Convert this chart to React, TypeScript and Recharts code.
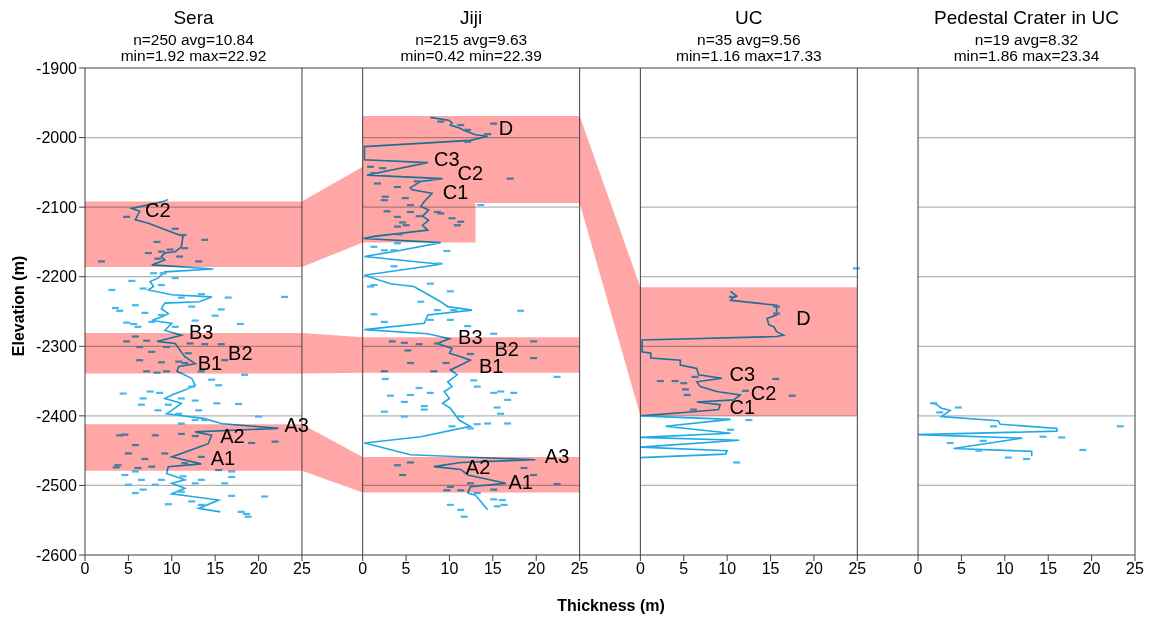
import { ComposedChart, Line, Scatter, Area, XAxis, YAxis, ReferenceLine } from "recharts";

// panel layout along one numeric x axis: each panel is 0..25 m, gaps of 7
const PANEL_TITLES = ["Sera", "Jiji", "UC", "Pedestal Crater in UC"];
const PANEL_STATS = [
  ["n=250 avg=10.84", "min=1.92 max=22.92"],
  ["n=215 avg=9.63", "min=0.42 min=22.39"],
  ["n=35 avg=9.56", "min=1.16 max=17.33"],
  ["n=19 avg=8.32", "min=1.86 max=23.34"],
];
const OFFSETS = [0, 32, 64, 96];
const PANEL_MAX = 25;
const LOCAL_TICKS = [0, 5, 10, 15, 20, 25];
const Y_TICKS = [-2600, -2500, -2400, -2300, -2200, -2100, -2000, -1900];
const GRID_LEVELS = [-2000, -2100, -2200, -2300, -2400, -2500];

// [thickness, elevation]
const SERA_LINE = [
  [9.6, -2089], [9.0, -2092], [5.4, -2102], [6.3, -2106], [5.8, -2118], [7.3, -2123], [10.4, -2138],
  [11.3, -2142], [11.1, -2157], [10.4, -2164], [9.2, -2166], [8.8, -2171], [9.2, -2176], [7.7, -2183],
  [14.8, -2189], [9.2, -2193], [8.4, -2202], [7.5, -2207], [7.9, -2214], [7.3, -2219], [10.0, -2226],
  [14.6, -2229], [13.2, -2236], [9.2, -2238], [8.8, -2246], [9.6, -2253], [9.0, -2257], [7.7, -2263],
  [10.0, -2267], [9.2, -2277], [11.1, -2284], [8.3, -2293], [10.4, -2296], [11.1, -2308], [11.5, -2315],
  [12.7, -2325], [10.8, -2329], [10.6, -2336], [12.3, -2346], [12.7, -2356], [11.5, -2363], [10.0, -2370],
  [9.2, -2375], [11.1, -2382], [10.0, -2392], [9.4, -2397], [13.8, -2404], [15.7, -2411], [22.3, -2418],
  [12.7, -2423], [14.6, -2428], [14.2, -2440], [12.7, -2447], [10.0, -2459], [13.4, -2469], [9.6, -2473],
  [9.4, -2483], [11.5, -2492], [10.0, -2497], [11.5, -2504], [10.0, -2512], [15.4, -2521], [13.1, -2533],
  [15.6, -2538],
];
const SERA_POINTS = [
  [4.8, -2114], [10.4, -2131], [11.3, -2140], [8.3, -2150], [13.8, -2147], [11.5, -2159], [7.3, -2166],
  [8.8, -2164], [9.8, -2161], [10.9, -2171], [1.9, -2178], [13.1, -2178], [8.4, -2174], [7.9, -2195],
  [9.0, -2195], [10.4, -2202], [5.4, -2206], [3.1, -2219], [6.7, -2217], [8.8, -2212], [13.4, -2225],
  [16.5, -2230], [23.0, -2229], [11.1, -2230], [5.8, -2241], [12.3, -2243], [3.5, -2245], [4.0, -2249],
  [6.9, -2252], [8.8, -2255], [15.0, -2256], [15.7, -2247], [4.8, -2266], [6.1, -2272], [5.6, -2268],
  [17.9, -2268], [7.7, -2265], [12.7, -2263], [10.4, -2272], [5.8, -2286], [7.1, -2292], [4.8, -2293],
  [12.1, -2296], [13.8, -2297], [15.7, -2297], [6.3, -2301], [9.4, -2301], [7.7, -2308], [11.9, -2310],
  [16.1, -2320], [6.3, -2320], [8.8, -2323], [10.8, -2322], [7.1, -2336], [8.3, -2338], [9.4, -2336],
  [11.5, -2324], [13.4, -2336], [18.4, -2341], [15.4, -2356], [14.6, -2348], [12.3, -2358], [7.5, -2365],
  [4.4, -2368], [8.6, -2367], [6.7, -2375], [11.1, -2375], [12.7, -2378], [9.6, -2384], [8.4, -2392],
  [15.2, -2382], [17.7, -2383], [6.5, -2384], [13.1, -2392], [10.8, -2397], [20.0, -2401], [12.7, -2406],
  [13.8, -2406], [11.1, -2411], [4.6, -2427], [4.0, -2428], [8.1, -2428], [11.1, -2426], [12.7, -2429],
  [19.2, -2439], [21.9, -2437], [5.8, -2442], [5.0, -2454], [6.9, -2462], [9.2, -2454], [13.4, -2459],
  [3.8, -2471], [3.6, -2474], [6.1, -2475], [7.7, -2473], [11.5, -2468], [15.4, -2478], [16.9, -2480],
  [5.8, -2480], [4.6, -2485], [6.5, -2492], [8.8, -2492], [11.3, -2487], [13.4, -2492], [16.9, -2488],
  [5.0, -2499], [8.1, -2499], [12.7, -2497], [16.1, -2497], [5.8, -2511], [6.7, -2506], [11.1, -2509],
  [16.9, -2515], [20.7, -2516], [12.3, -2523], [9.6, -2527], [13.4, -2528], [18.0, -2538], [18.8, -2545],
  [18.6, -2541],
];
const JIJI_LINE = [
  [7.8, -1971], [9.9, -1975], [10.3, -1979], [10.1, -1982], [11.3, -1987], [11.7, -1990], [13.0, -1996],
  [14.4, -1998], [12.4, -2004], [0.2, -2013], [0.2, -2032], [7.5, -2036], [3.2, -2047], [0.5, -2054],
  [9.2, -2059], [6.7, -2063], [5.5, -2072], [5.7, -2075], [8.0, -2080], [7.1, -2092], [6.7, -2099],
  [7.6, -2104], [6.9, -2113], [7.6, -2119], [6.9, -2126], [7.5, -2133], [1.3, -2142], [0.1, -2145],
  [9.0, -2151], [4.4, -2162], [0.2, -2171], [9.0, -2182], [0.2, -2198], [3.2, -2210], [5.9, -2214],
  [9.0, -2236], [9.8, -2243], [12.6, -2248], [7.5, -2255], [7.1, -2267], [0.2, -2276], [7.5, -2282],
  [10.0, -2289], [8.6, -2296], [10.3, -2303], [10.0, -2310], [11.3, -2315], [12.4, -2320], [11.3, -2327],
  [10.1, -2334], [10.9, -2341], [9.8, -2351], [10.3, -2358], [9.4, -2365], [10.0, -2375], [9.2, -2382],
  [10.1, -2389], [10.7, -2399], [11.1, -2406], [12.4, -2415], [6.7, -2430], [0.2, -2439], [5.5, -2456],
  [19.9, -2463], [11.3, -2467], [8.2, -2473], [11.3, -2477], [12.1, -2485], [16.5, -2497], [12.4, -2502],
  [12.1, -2511], [13.0, -2514], [14.4, -2535],
];
const JIJI_POINTS = [
  [9.0, -1977], [11.3, -1982], [12.1, -1989], [14.4, -1995], [15.1, -1980], [12.1, -2006], [0.9, -2042],
  [2.3, -2044], [1.3, -2051], [4.0, -2071], [1.7, -2066], [17.0, -2059], [6.3, -2063], [2.6, -2085],
  [2.5, -2090], [4.9, -2087], [2.8, -2106], [5.5, -2097], [4.0, -2114], [5.5, -2107], [6.5, -2113],
  [4.6, -2122], [4.0, -2128], [5.0, -2126], [9.0, -2109], [10.3, -2116], [11.3, -2121], [10.9, -2126],
  [4.2, -2139], [8.6, -2107], [13.6, -2097], [1.3, -2157], [2.5, -2162], [3.6, -2162], [4.0, -2152],
  [9.7, -2163], [3.6, -2185], [8.8, -2181], [1.3, -2212], [0.9, -2214], [7.8, -2210], [6.7, -2236],
  [10.1, -2221], [8.6, -2248], [10.5, -2248], [1.3, -2254], [2.5, -2265], [18.2, -2249], [7.8, -2262],
  [10.1, -2262], [12.1, -2271], [15.1, -2282], [3.4, -2293], [4.8, -2295], [6.5, -2297], [8.6, -2296],
  [5.2, -2306], [19.7, -2293], [5.5, -2324], [2.5, -2336], [8.2, -2336], [12.4, -2311], [9.6, -2324],
  [19.7, -2317], [22.4, -2344], [2.6, -2347], [6.5, -2360], [7.8, -2367], [12.8, -2349], [13.2, -2358],
  [3.2, -2371], [4.8, -2380], [5.5, -2370], [15.1, -2367], [15.9, -2365], [17.4, -2367], [7.1, -2386],
  [7.1, -2391], [16.7, -2377], [15.5, -2388], [2.5, -2394], [4.8, -2401], [11.3, -2401], [15.9, -2397],
  [13.2, -2412], [10.3, -2415], [12.4, -2418], [16.7, -2411], [14.4, -2411], [4.0, -2471], [4.6, -2485],
  [5.5, -2467], [18.6, -2475], [19.7, -2485], [22.4, -2498], [12.4, -2497], [10.1, -2502], [9.7, -2507],
  [11.3, -2507], [13.2, -2511], [15.1, -2506], [15.1, -2520], [16.1, -2521], [10.1, -2528], [11.3, -2535],
  [15.5, -2530], [16.3, -2528], [11.7, -2545],
];
const UC_LINE = [
  [10.4, -2221], [11.1, -2228], [10.6, -2231], [10.4, -2234], [15.7, -2241], [15.7, -2255], [14.6, -2260],
  [14.8, -2269], [15.4, -2272], [15.7, -2279], [16.5, -2284], [15.7, -2286], [0.2, -2291], [0.2, -2308],
  [1.2, -2310], [1.2, -2317], [4.6, -2320], [4.6, -2327], [6.5, -2332], [6.7, -2341], [9.4, -2346],
  [6.5, -2351], [6.9, -2358], [8.8, -2365], [11.5, -2370], [10.75, -2377], [6.5, -2380], [9.2, -2384],
  [9.0, -2391], [6.1, -2394], [0.0, -2400], [10.4, -2405], [2.9, -2415], [10.4, -2425], [0.0, -2431],
  [11.4, -2435], [0.0, -2445], [10.0, -2450], [9.8, -2455], [0.0, -2460],
];
const UC_POINTS = [
  [2.3, -2350], [4.0, -2350], [5.0, -2353], [5.2, -2362], [5.4, -2370], [6.3, -2344], [6.1, -2391],
  [12.1, -2364], [15.6, -2347], [17.5, -2371], [12.5, -2406], [10.4, -2420], [11.1, -2467], [10.6, -2229],
  [15.7, -2243], [15.7, -2253], [24.9, -2188],
];
const PEDESTAL_LINE = [
  [1.6, -2381], [2.15, -2384], [2.7, -2389], [3.7, -2392], [2.7, -2401], [9.25, -2407], [9.45, -2412],
  [16.0, -2418], [16.0, -2422], [0.0, -2427], [12.0, -2432], [4.1, -2447], [13.1, -2451], [13.1, -2458],
];
const PEDESTAL_POINTS = [
  [4.65, -2388], [2.5, -2395], [1.8, -2382], [8.7, -2415], [23.3, -2415], [14.4, -2430], [16.55, -2431],
  [3.7, -2439], [7.5, -2436], [7.0, -2450], [19.0, -2449], [10.4, -2460], [12.5, -2462],
];

const PANEL_LINES = [SERA_LINE, JIJI_LINE, UC_LINE, PEDESTAL_LINE];
const PANEL_POINTS = [SERA_POINTS, JIJI_POINTS, UC_POINTS, PEDESTAL_POINTS];

// correlated units: [panel, thickness, low elevation, high elevation]
const BAND_C = [
  [0, 0, -2186, -2092], [0, 25, -2186, -2092], [1, 0, -2151, -2042], [1, 0, -2151, -1969],
  [1, 13, -2151, -1969], [1, 13, -2094, -1969], [1, 25, -2094, -1969], [2, 0, -2400, -2215],
  [2, 25, -2400, -2215],
];
const BAND_B = [[0, 0, -2339, -2281], [0, 25, -2339, -2281], [1, 0, -2338, -2287], [1, 25, -2338, -2287]];
const BAND_A = [[0, 0, -2479, -2412], [0, 25, -2479, -2412], [1, 0, -2510, -2459], [1, 25, -2510, -2459]];
const BANDS = [BAND_C, BAND_B, BAND_A];

// [panel, name, thickness, elevation]
const UNIT_LABELS = [
  [0, "C2", 8.4, -2104], [0, "B3", 13.4, -2279], [0, "B2", 17.9, -2309], [0, "B1", 14.4, -2324],
  [0, "A3", 24.4, -2413], [0, "A2", 17.0, -2429], [0, "A1", 15.9, -2461],
  [1, "D", 16.5, -1986], [1, "C3", 9.7, -2031], [1, "C2", 12.4, -2051], [1, "C1", 10.7, -2078],
  [1, "B3", 12.4, -2287], [1, "B2", 16.6, -2304], [1, "B1", 14.8, -2328],
  [1, "A3", 22.4, -2458], [1, "A2", 13.3, -2474], [1, "A1", 18.2, -2495],
  [2, "D", 18.8, -2259], [2, "C3", 11.75, -2340], [2, "C2", 14.2, -2367], [2, "C1", 11.75, -2387],
];

const FONT = "'Liberation Sans', Arial, sans-serif";
const BLUE = "#1eaae6";
const PINK = "#ffa6a6";
const FRAME = "#404040";

const xTicks = OFFSETS.flatMap((o) => LOCAL_TICKS.map((t) => o + t));
const edges = OFFSETS.flatMap((o) => [o, o + PANEL_MAX]);
const labelData = UNIT_LABELS.map(([p, name, t, e]) => ({ x: OFFSETS[p as number] + (t as number), y: e, name }));

const Dash = (props: any) => {
  const { cx, cy } = props;
  if (cx == null || cy == null) return null;
  return <rect x={cx - 3.5} y={cy - 1.1} width={7} height={2.2} fill="#45b8ec" />;
};

const UnitLabel = (props: any) => {
  const { cx, cy, payload } = props;
  if (cx == null || cy == null) return null;
  return (
    <text x={cx} y={cy} textAnchor="middle" dominantBaseline="central" fontSize={20} fontFamily={FONT} fill="#000">
      {payload.name}
    </text>
  );
};

export default function App() {
  const panelCenter = (i: number) => 85 + ((OFFSETS[i] + 12.5) * 1050) / 121;
  return (
    <div style={{ position: "absolute", left: 0, top: 0, width: 1151, height: 618, background: "#fff", fontFamily: FONT }}>
      <style>{`.band path { mix-blend-mode: multiply; }`}</style>
      <ComposedChart width={1151} height={618} margin={{ top: 68, right: 16, bottom: 33, left: 25 }}>
        <XAxis
          type="number"
          dataKey="x"
          domain={[0, 121]}
          ticks={xTicks}
          interval={0}
          tickFormatter={(v: number) => String(Math.round(v - Math.floor(v / 32) * 32))}
          tick={{ fontSize: 16, fill: "#000", fontFamily: FONT }}
          tickLine={{ stroke: FRAME }}
          axisLine={{ stroke: FRAME }}
          height={30}
        />
        <YAxis
          type="number"
          domain={[-2600, -1900]}
          ticks={Y_TICKS}
          interval={0}
          tick={{ fontSize: 16, fill: "#000", fontFamily: FONT }}
          tickLine={{ stroke: FRAME }}
          axisLine={{ stroke: FRAME }}
          width={60}
        />
        {OFFSETS.flatMap((o) =>
          GRID_LEVELS.map((g) => (
            <ReferenceLine
              key={`g-${o}-${g}`}
              segment={[{ x: o, y: g }, { x: o + PANEL_MAX, y: g }]}
              stroke="#b4b4b4"
              strokeWidth={1.3}
              zIndex={10}
            />
          ))
        )}
        {PANEL_LINES.map((pts, i) => (
          <Line
            key={`l-${i}`}
            data={pts.map(([t, e]) => ({ x: OFFSETS[i] + t, y: e }))}
            dataKey="y"
            type="linear"
            stroke={BLUE}
            strokeWidth={1.6}
            dot={false}
            activeDot={false}
            isAnimationActive={false}
            zIndex={400}
          />
        ))}
        {PANEL_POINTS.map((pts, i) => (
          <Scatter
            key={`s-${i}`}
            data={pts.map(([t, e]) => ({ x: OFFSETS[i] + t, y: e }))}
            dataKey="y"
            shape={Dash}
            isAnimationActive={false}
            zIndex={450}
          />
        ))}
        {BANDS.map((b, i) => (
          <Area
            key={`b-${i}`}
            className="band"
            data={b.map(([p, t, lo, hi]) => ({ x: OFFSETS[p] + t, band: [lo, hi] }))}
            dataKey="band"
            type="linear"
            fill={PINK}
            fillOpacity={1}
            stroke="none"
            dot={false}
            activeDot={false}
            isAnimationActive={false}
            zIndex={700}
          />
        ))}
        <ReferenceLine y={-1900} stroke={FRAME} zIndex={750} />
        {edges.slice(1).map((x) => (
          <ReferenceLine key={`e-${x}`} x={x} stroke={FRAME} zIndex={750} />
        ))}
        <Scatter data={labelData} dataKey="y" shape={UnitLabel} isAnimationActive={false} zIndex={800} />
      </ComposedChart>
      {PANEL_TITLES.map((title, i) => (
        <div
          key={title}
          style={{ position: "absolute", left: panelCenter(i) - 150, width: 300, top: 7, textAlign: "center", color: "#000" }}
        >
          <div style={{ fontSize: 19, lineHeight: "22px" }}>{title}</div>
          <div style={{ fontSize: 15.5, lineHeight: "16px", marginTop: 3 }}>{PANEL_STATS[i][0]}</div>
          <div style={{ fontSize: 15.5, lineHeight: "16px" }}>{PANEL_STATS[i][1]}</div>
        </div>
      ))}
      <div
        style={{
          position: "absolute",
          left: 19 - 70,
          top: 306 - 9,
          width: 140,
          textAlign: "center",
          fontSize: 16,
          fontWeight: "bold",
          lineHeight: "18px",
          transform: "rotate(-90deg)",
        }}
      >
        Elevation (m)
      </div>
      <div
        style={{
          position: "absolute",
          left: 611 - 90,
          top: 597,
          width: 180,
          textAlign: "center",
          fontSize: 16,
          fontWeight: "bold",
          lineHeight: "18px",
        }}
      >
        Thickness (m)
      </div>
    </div>
  );
}
